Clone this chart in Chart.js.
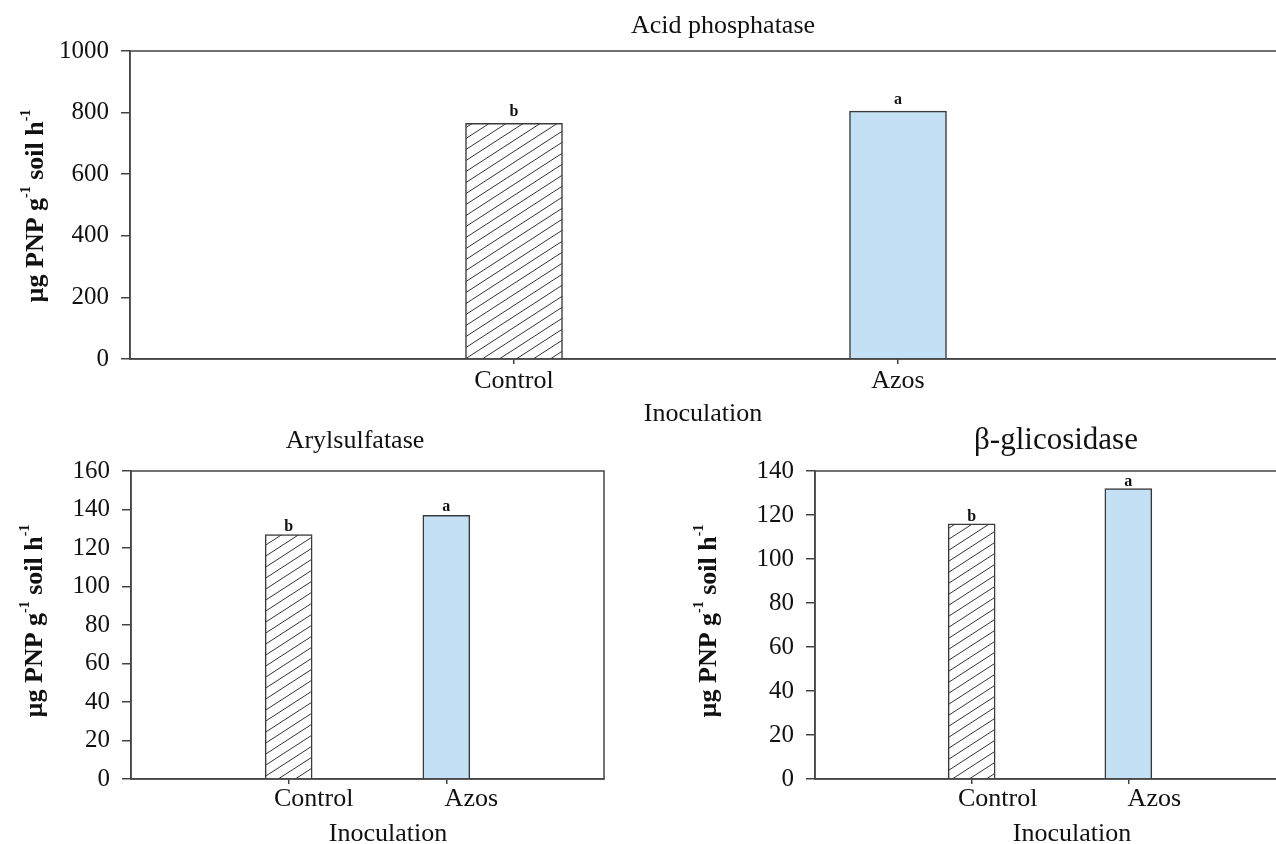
<!DOCTYPE html>
<html>
<head>
<meta charset="utf-8">
<script src="https://cdn.jsdelivr.net/npm/chart.js@4.4.1/dist/chart.umd.min.js"></script>
<style>
  html, body { margin: 0; padding: 0; background: #fff; overflow: hidden; width: 1276px; height: 844px; }
  canvas { position: absolute; }
  #acid { left: 0; top: 0; }
  #aryl { left: 0; top: 420px; }
  #gluc { left: 640px; top: 420px; }
</style>
</head>
<body>
<canvas id="acid" width="1290" height="430"></canvas>
<canvas id="aryl" width="640" height="424"></canvas>
<canvas id="gluc" width="660" height="424"></canvas>
<script>
const CATEGORIES = ["Control", "Azos"];

const ACID_VALUES = [765, 805];
const ACID_LETTERS = ["b", "a"];

const ARYL_VALUES = [127, 137];
const ARYL_LETTERS = ["b", "a"];

const GLUC_VALUES = [116, 132];
const GLUC_LETTERS = ["b", "a"];

const SERIF = "'Liberation Serif', 'Times New Roman', serif";
const AXIS = "#444";
const EDGE = "#3a3a3a";
const BLUE = "#c3e0f4";
const INK = "#111";

function makeHatch() {
  const tile = document.createElement("canvas");
  tile.width = 17;
  tile.height = 11;
  const c = tile.getContext("2d");
  c.fillStyle = "#fff";
  c.fillRect(0, 0, 17, 11);
  c.strokeStyle = "#333";
  c.lineWidth = 1;
  [-11, 0, 11].forEach((k) => {
    c.beginPath();
    c.moveTo(-1, 11 + k + 11 / 17);
    c.lineTo(18, k - 11 / 17);
    c.stroke();
  });
  return c.createPattern(tile, "repeat");
}

function drawYTitle(ctx, cx, cy) {
  const parts = [["µg PNP g", false], ["-1", true], [" soil h", false], ["-1", true]];
  const big = "bold 26px " + SERIF;
  const small = "bold 14px " + SERIF;
  let total = 0;
  parts.forEach(([t, sup]) => {
    ctx.font = sup ? small : big;
    total += ctx.measureText(t).width;
  });
  ctx.save();
  ctx.translate(cx, cy);
  ctx.rotate(-Math.PI / 2);
  ctx.textAlign = "left";
  ctx.textBaseline = "alphabetic";
  let x = -total / 2;
  parts.forEach(([t, sup]) => {
    ctx.font = sup ? small : big;
    ctx.fillText(t, x, sup ? -13 : 0);
    x += ctx.measureText(t).width;
  });
  ctx.restore();
}

// frame, letters over bars, titles
const panelText = {
  id: "panelText",
  afterDraw(chart, args, opts) {
    const ctx = chart.ctx;
    const area = chart.chartArea;
    ctx.save();
    ctx.strokeStyle = AXIS;
    ctx.lineWidth = 1.5;
    ctx.strokeRect(area.left, area.top, area.right - area.left, area.bottom - area.top);

    ctx.fillStyle = INK;
    ctx.textAlign = "center";
    ctx.textBaseline = "alphabetic";
    ctx.font = "bold 16px " + SERIF;
    chart.getDatasetMeta(0).data.forEach((bar, i) => {
      ctx.fillText(opts.letters[i], bar.x, bar.y - opts.letterGap);
    });

    ctx.font = opts.titleSize + "px " + SERIF;
    ctx.fillText(opts.title, opts.titleX, opts.titleY);

    ctx.font = "26px " + SERIF;
    ctx.fillText("Inoculation", opts.xTitleX, opts.xTitleY);

    drawYTitle(ctx, opts.yTitleX, opts.yTitleY);
    ctx.restore();
  },
};

function makeChart(id, cfg) {
  const hatch = makeHatch();
  return new Chart(document.getElementById(id), {
    type: "bar",
    data: {
      datasets: [
        {
          data: cfg.values.map((v, i) => ({ x: i + 1, y: v })),
          backgroundColor: [hatch, BLUE],
          borderColor: EDGE,
          borderWidth: 1.5,
          barThickness: cfg.barWidth,
        },
      ],
    },
    options: {
      responsive: false,
      animation: false,
      events: [],
      layout: { padding: { left: 0, top: 51, right: cfg.padRight, bottom: 0 } },
      plugins: {
        legend: { display: false },
        tooltip: { enabled: false },
        panelText: cfg.text,
      },
      scales: {
        x: {
          type: "linear",
          min: 0,
          max: 3,
          offset: false,
          afterBuildTicks: (scale) => {
            scale.ticks = CATEGORIES.map((_, i) => ({ value: i + 1 }));
          },
          afterFit: (scale) => {
            scale.height = cfg.xHeight;
          },
          grid: { drawOnChartArea: false, offset: false, tickLength: 5, color: AXIS, lineWidth: 1.5 },
          border: { color: AXIS, width: 1.5 },
          ticks: {
            callback: (v) => CATEGORIES[v - 1],
            font: { family: SERIF, size: 26 },
            color: INK,
            padding: cfg.xPad,
            labelOffset: cfg.labelOffset,
            maxRotation: 0,
          },
        },
        y: {
          min: 0,
          max: cfg.max,
          afterFit: (scale) => {
            scale.width = cfg.yWidth;
          },
          grid: { drawOnChartArea: false, tickLength: 9, color: AXIS, lineWidth: 1.5 },
          border: { color: AXIS, width: 1.5 },
          ticks: {
            stepSize: cfg.step,
            callback: (v) => String(v),
            font: { family: SERIF, size: 25 },
            color: INK,
            padding: 12,
          },
        },
      },
    },
    plugins: [panelText],
  });
}

makeChart("acid", {
  values: ACID_VALUES,
  max: 1000,
  step: 200,
  barWidth: 97,
  yWidth: 130,
  xHeight: 71,
  padRight: 8,
  xPad: 2,
  labelOffset: 0,
  text: {
    letters: ACID_LETTERS,
    letterGap: 7,
    title: "Acid phosphatase",
    titleSize: 26,
    titleX: 723,
    titleY: 33,
    xTitleX: 703,
    xTitleY: 421,
    yTitleX: 43,
    yTitleY: 206,
  },
});

makeChart("aryl", {
  values: ARYL_VALUES,
  max: 160,
  step: 20,
  barWidth: 47,
  yWidth: 131,
  xHeight: 65,
  padRight: 36,
  xPad: 0,
  labelOffset: 25,
  text: {
    letters: ARYL_LETTERS,
    letterGap: 4,
    title: "Arylsulfatase",
    titleSize: 26,
    titleX: 355,
    titleY: 28,
    xTitleX: 388,
    xTitleY: 421,
    yTitleX: 42,
    yTitleY: 201,
  },
});

makeChart("gluc", {
  values: GLUC_VALUES,
  max: 140,
  step: 20,
  barWidth: 47,
  yWidth: 175,
  xHeight: 65,
  padRight: 15,
  xPad: 0,
  labelOffset: 26,
  text: {
    letters: GLUC_LETTERS,
    letterGap: 3,
    title: "β-glicosidase",
    titleSize: 31,
    titleX: 416,
    titleY: 29,
    xTitleX: 432,
    xTitleY: 421,
    yTitleX: 76,
    yTitleY: 201,
  },
});
</script>
</body>
</html>
